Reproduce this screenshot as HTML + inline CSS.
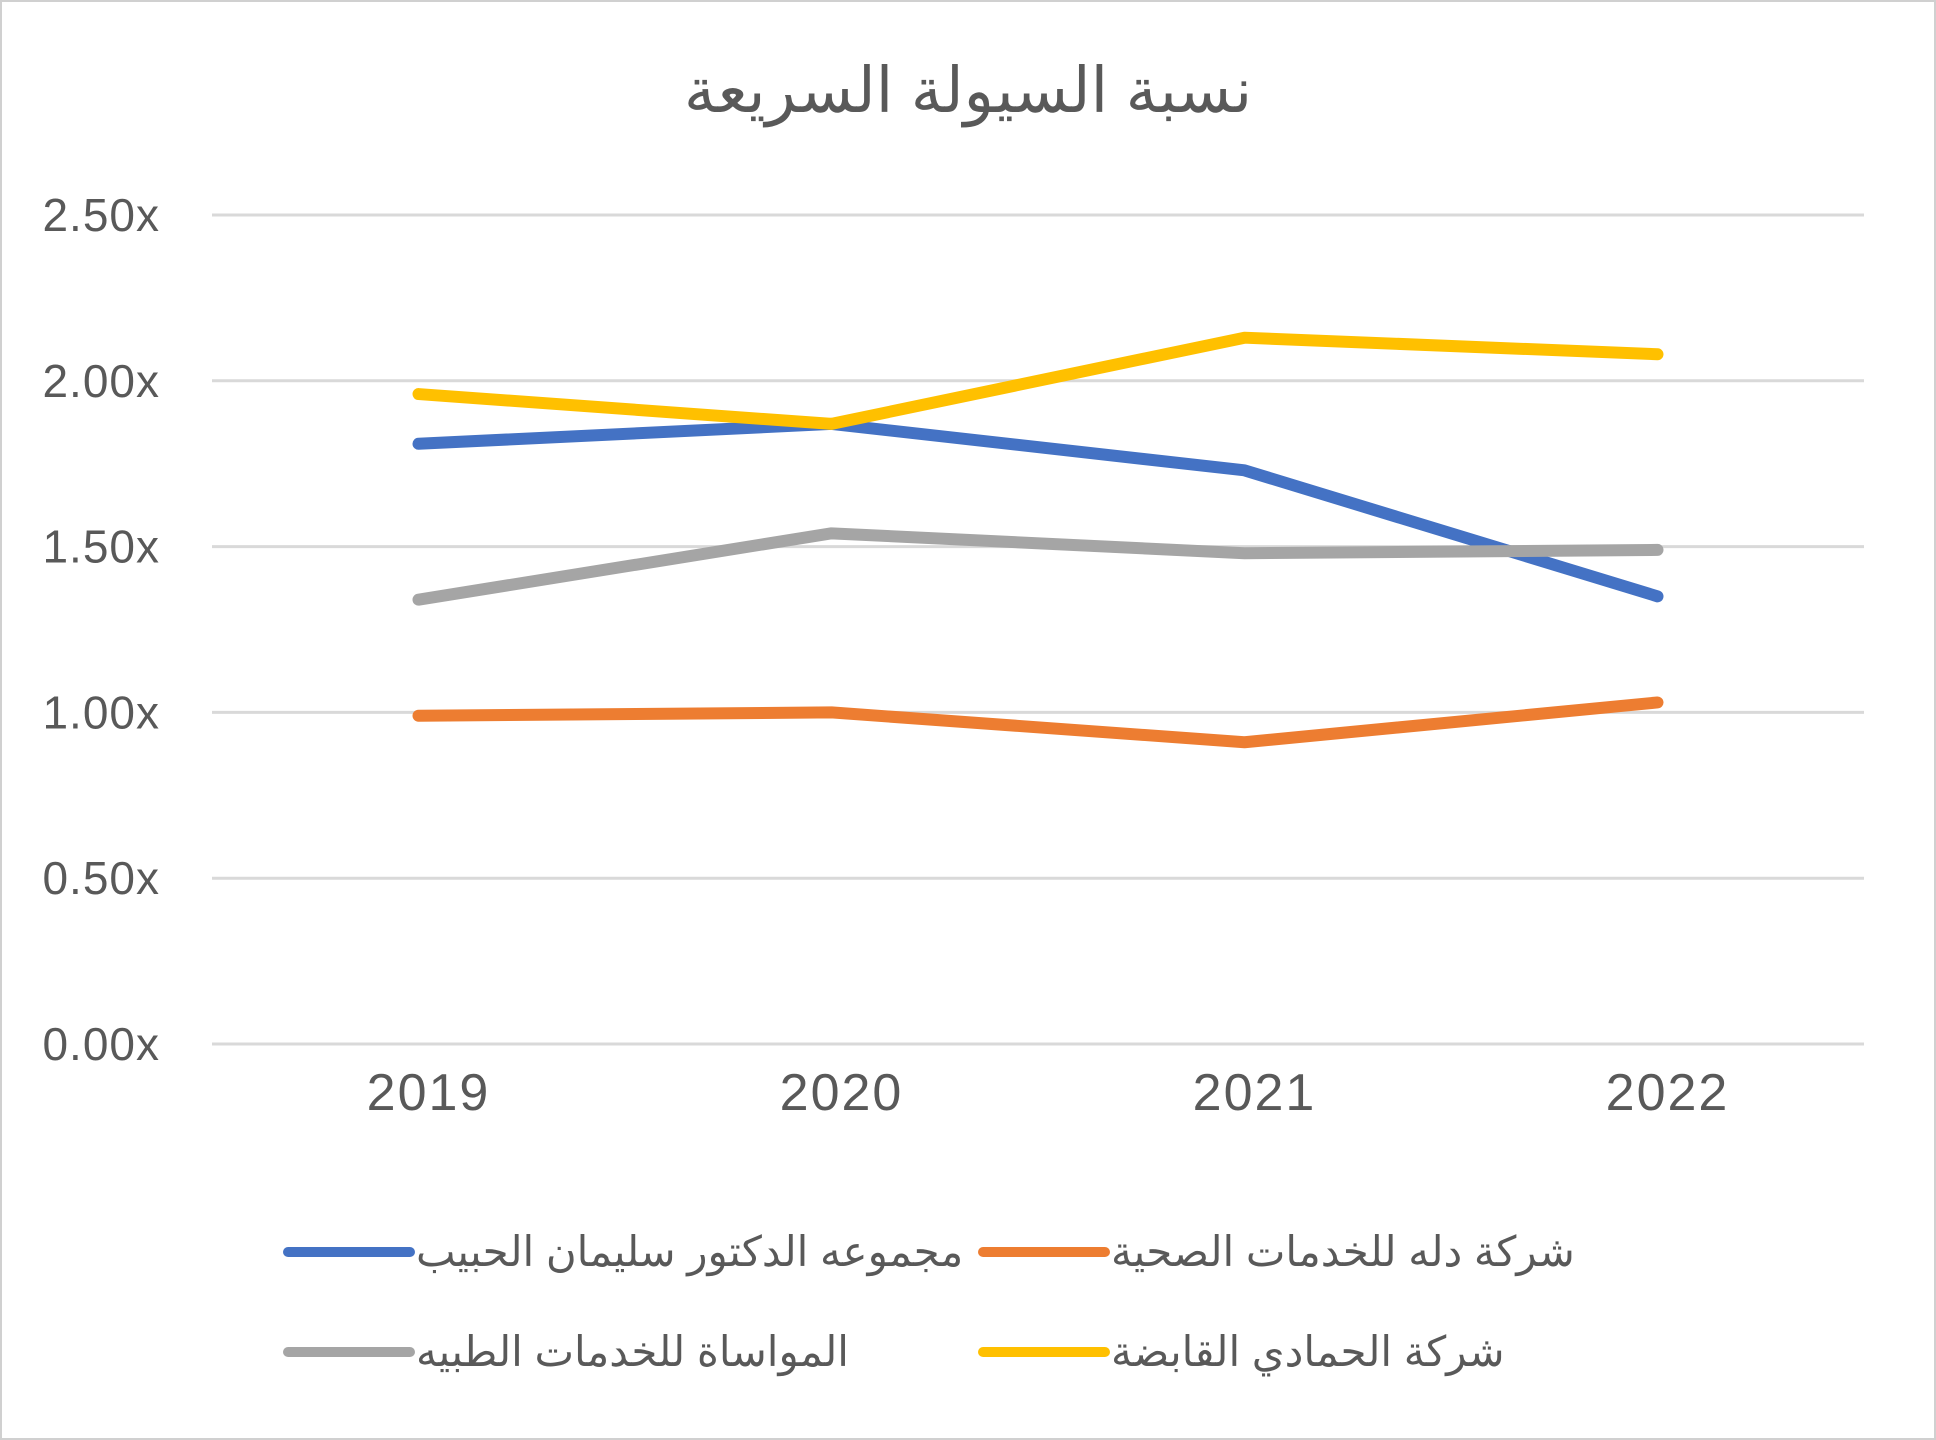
<!DOCTYPE html>
<html><head><meta charset="utf-8"><style>
html,body{margin:0;padding:0;background:#fff}
svg{display:block;font-family:"Liberation Sans","Noto Sans CJK SC","DejaVu Sans",sans-serif}
</style></head><body>
<svg id="chart" width="1936" height="1440" viewBox="0 0 1936 1440">
<rect x="1" y="1" width="1934" height="1438" fill="#fff" stroke="#d0d0d0" stroke-width="2"/>
<text x="968" y="112" text-anchor="middle" font-size="63" fill="#595959">نسبة السيولة السريعة</text>
<g id="grid"></g><g id="yticks"></g><g id="xticks"></g><g id="lines"></g><g id="legend"></g>
</svg>
<script>
const categories=["2019","2020","2021","2022"];
const yTicks=[0,0.5,1,1.5,2,2.5];
const yTickLabels=["0.00x","0.50x","1.00x","1.50x","2.00x","2.50x"];
const seriesNames=["مجموعه الدكتور سليمان الحبيب","شركة دله للخدمات الصحية","المواساة للخدمات الطبيه","شركة الحمادي القابضة"];
const seriesColors=["#4472c4","#ed7d31","#a5a5a5","#ffc000"];
const habibValues=[1.81,1.87,1.73,1.35];
const dallahValues=[0.99,1.00,0.91,1.03];
const mouwasatValues=[1.34,1.54,1.48,1.49];
const hammadiValues=[1.96,1.87,2.13,2.08];
const allSeries=[habibValues,dallahValues,mouwasatValues,hammadiValues];

const NS="http://www.w3.org/2000/svg";
const L=212,R=1864,T=215,B=1044,yMax=2.5;
const y=v=>B-(v/yMax)*(B-T);
const x=i=>L+(R-L)/categories.length*(i+0.5);
function mk(tag,attrs,parent){const e=document.createElementNS(NS,tag);for(const k in attrs)e.setAttribute(k,attrs[k]);document.getElementById(parent).appendChild(e);return e;}

yTicks.forEach((v,i)=>{
 const g=mk("line",{x1:L,x2:R,y1:y(v),y2:y(v),stroke:"#d9d9d9","stroke-width":3},"grid");
 
 
 const t=mk("text",{x:160,y:y(v)+16,"text-anchor":"end","font-size":46,"letter-spacing":1,fill:"#595959"},"yticks");
 t.textContent=yTickLabels[i];
 
 
});
categories.forEach((c,i)=>{
 const t=mk("text",{x:x(i)+10,y:1110,"text-anchor":"middle","font-size":52,"letter-spacing":2,fill:"#595959"},"xticks");
 t.textContent=c;
 
 
});
allSeries.forEach((vals,s)=>{
 const p=mk("polyline",{points:vals.map((v,i)=>x(i)+","+y(v)).join(" "),fill:"none",stroke:seriesColors[s],"stroke-width":12,"stroke-linecap":"round","stroke-linejoin":"round"},"lines");
 
 
});
const legPos=[[288,1252],[983,1252],[288,1352],[983,1352]];
seriesNames.forEach((n,s)=>{
 const [lx,ly]=legPos[s];
 const l=mk("line",{x1:lx,x2:lx+122,y1:ly,y2:ly,stroke:seriesColors[s],"stroke-width":10,"stroke-linecap":"round"},"legend");
 
 
 const t=mk("text",{x:lx+128,y:ly+14,"font-size":42,fill:"#595959","text-anchor":"start",direction:"ltr"},"legend");
 t.textContent=n;
 
 
});
</script>
</body></html>
